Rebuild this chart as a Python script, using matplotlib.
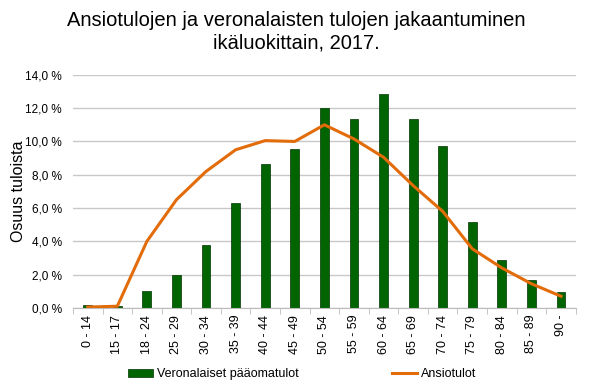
import matplotlib.pyplot as plt
import numpy as np

plt.rcParams['font.family'] = ['Liberation Sans', 'DejaVu Sans']

categories = ['0 - 14', '15 - 17', '18 - 24', '25 - 29', '30 - 34', '35 - 39',
              '40 - 44', '45 - 49', '50 - 54', '55 - 59', '60 - 64', '65 - 69',
              '70 - 74', '75 - 79', '80 - 84', '85 - 89', '90 -']
paaomatulot = [0.15, 0.1, 1.0, 1.95, 3.75, 6.3, 8.65, 9.55, 12.0, 11.35,
               12.85, 11.35, 9.75, 5.15, 2.85, 1.7, 0.95]
ansiotulot = [0.05, 0.1, 4.0, 6.5, 8.2, 9.5, 10.05, 10.0, 11.0, 10.15,
              9.05, 7.35, 5.8, 3.55, 2.4, 1.45, 0.7]
yticks = [0, 2, 4, 6, 8, 10, 12, 14]

fig = plt.figure(figsize=(5.93, 3.82), dpi=100)
ax = fig.add_axes([0.123, 0.194, 0.848, 0.610])

x = np.arange(len(categories))
bars = ax.bar(x, paaomatulot, width=0.3, color='#006400', edgecolor='#003300',
              linewidth=0.5, label='Veronalaiset pääomatulot', zorder=2)
line, = ax.plot(x, ansiotulot, color='#E36C0A', linewidth=2.2, label='Ansiotulot', zorder=3)

ax.set_xlim(-0.5, len(categories) - 0.5)
ax.set_ylim(0, 14)
ax.set_yticks(yticks)
ax.set_yticklabels([('%.1f %%' % v).replace('.', ',') for v in yticks], fontsize=8.5)
ax.set_xticks(x)
ax.set_xticklabels(categories, rotation=90, fontsize=9)
ax.set_xticks(np.arange(len(categories) + 1) - 0.5, minor=True)
ax.tick_params(axis='x', which='major', length=0, pad=5)
ax.tick_params(axis='x', which='minor', length=4, color='#bbbbbb')
ax.tick_params(axis='y', length=0, pad=8)
ax.grid(axis='y', color='#c8c8c8', linewidth=1, zorder=0)
ax.set_axisbelow(True)
for s in ['top', 'right', 'left']:
    ax.spines[s].set_visible(False)
ax.spines['bottom'].set_color('#bbbbbb')
ax.set_ylabel('Osuus tuloista', fontsize=11.5, labelpad=-1)

fig.suptitle('Ansiotulojen ja veronalaisten tulojen jakaantuminen\nikäluokittain, 2017.',
             fontsize=14.5, y=0.97, linespacing=1.2)

fig.legend([bars, line], ['Veronalaiset pääomatulot', 'Ansiotulot'],
           loc='lower center', bbox_to_anchor=(0.51, -0.025), ncol=2, frameon=False,
           fontsize=9, columnspacing=7.5, handlelength=2.0, handletextpad=0.3)

fig.savefig('out.png', dpi=100)
